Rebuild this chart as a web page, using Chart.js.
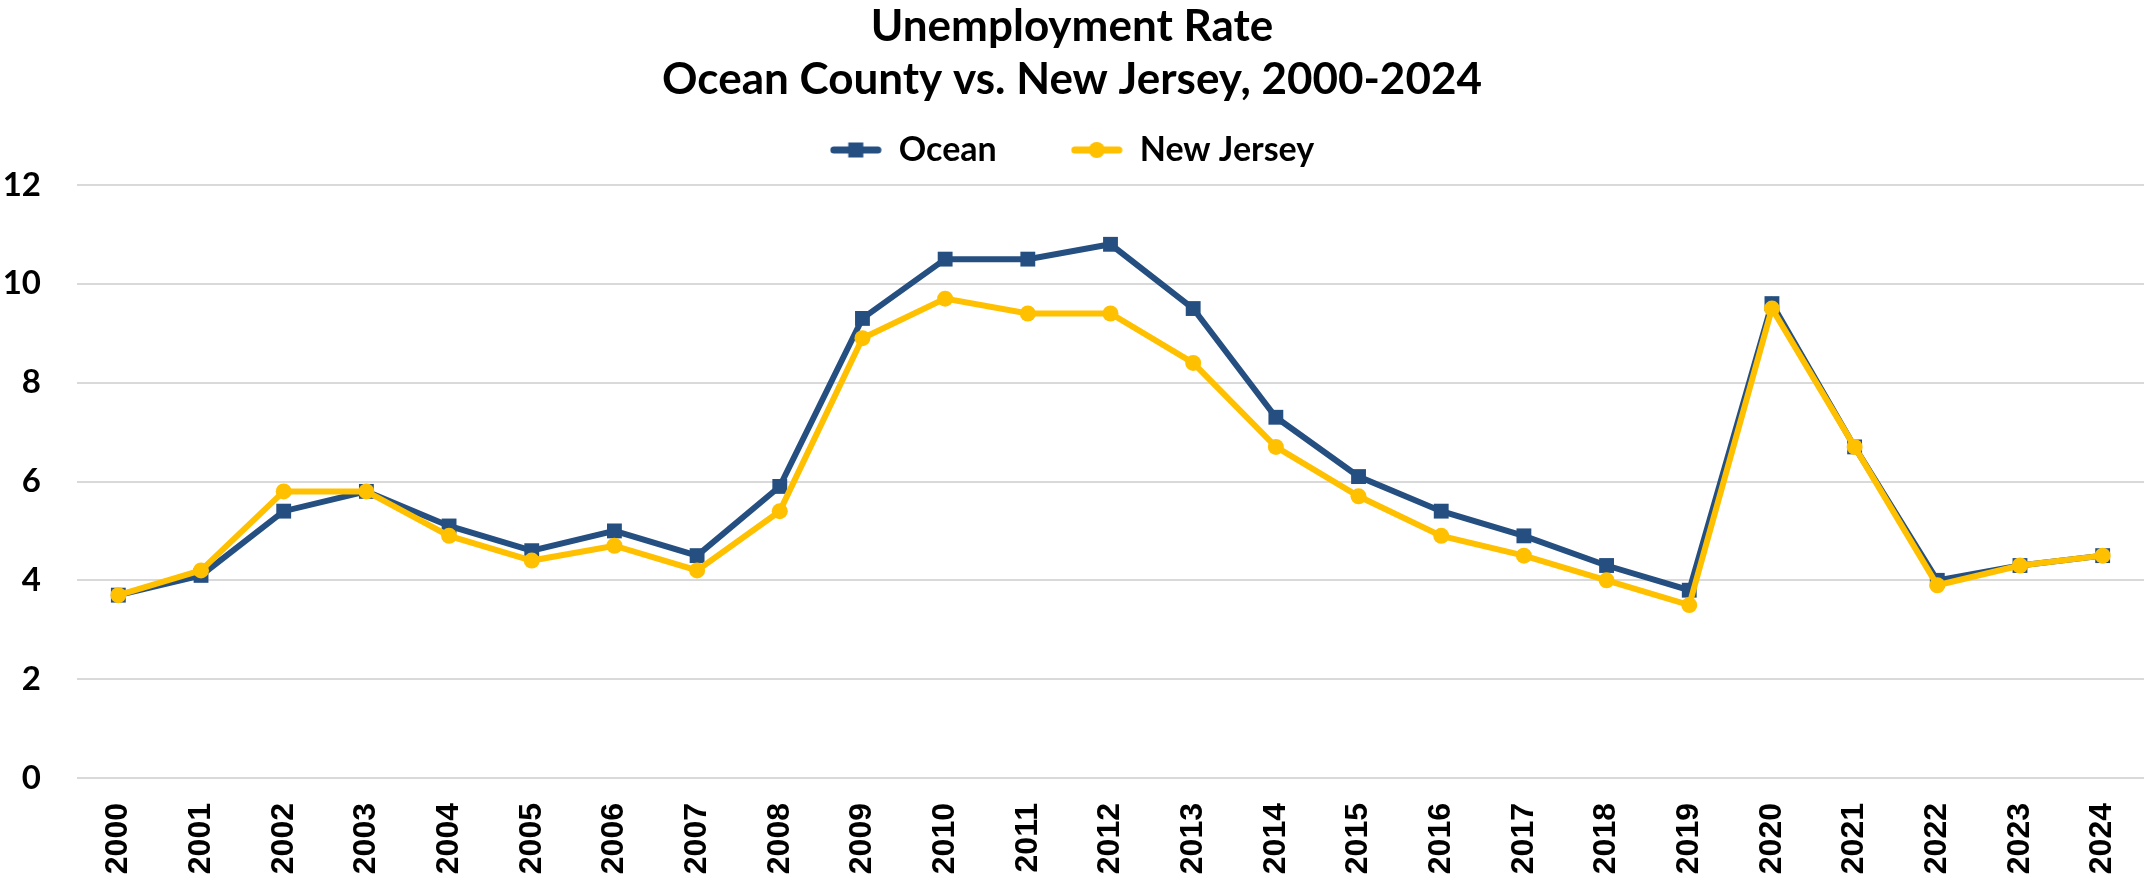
<!DOCTYPE html>
<html>
<head>
<meta charset="utf-8">
<script src="https://cdn.jsdelivr.net/npm/chart.js@4.4.1/dist/chart.umd.min.js"></script>
<style>
  html, body { margin: 0; padding: 0; background: #ffffff; }
  #wrap { width: 2144px; height: 883px; position: relative; }
</style>
</head>
<body>
<div id="wrap"><canvas id="c"></canvas></div>
<script>
const years = ['2000','2001','2002','2003','2004','2005','2006','2007','2008','2009','2010','2011','2012',
               '2013','2014','2015','2016','2017','2018','2019','2020','2021','2022','2023','2024'];
const ocean = [3.7, 4.1, 5.4, 5.8, 5.1, 4.6, 5.0, 4.5, 5.9, 9.3, 10.5, 10.5, 10.8,
               9.5, 7.3, 6.1, 5.4, 4.9, 4.3, 3.8, 9.6, 6.7, 4.0, 4.3, 4.5];
const newJersey = [3.7, 4.2, 5.8, 5.8, 4.9, 4.4, 4.7, 4.2, 5.4, 8.9, 9.7, 9.4, 9.4,
                   8.4, 6.7, 5.7, 4.9, 4.5, 4.0, 3.5, 9.5, 6.7, 3.9, 4.3, 4.5];
const seriesNames = ['Ocean', 'New Jersey'];
const titleLines = ['Unemployment Rate', 'Ocean County vs. New Jersey, 2000-2024'];
const yTicks = [0, 2, 4, 6, 8, 10, 12];

const OCEAN_COLOR = '#254F81';
const NJ_COLOR = '#FFC000';

function legendIcon(color, shape) {
  const cv = document.createElement('canvas');
  cv.width = 52; cv.height = 20;
  const g = cv.getContext('2d');
  g.strokeStyle = color; g.lineWidth = 7; g.lineCap = 'round';
  g.beginPath(); g.moveTo(4, 10); g.lineTo(48, 10); g.stroke();
  g.fillStyle = color;
  if (shape === 'rect') { g.fillRect(26 - 7.5, 10 - 7.5, 15, 15); }
  else { g.beginPath(); g.arc(26, 10, 8, 0, Math.PI * 2); g.fill(); }
  return cv;
}
const icons = [legendIcon(OCEAN_COLOR, 'rect'), legendIcon(NJ_COLOR, 'circle')];

new Chart(document.getElementById('c'), {
  type: 'line',
  data: {
    labels: years,
    datasets: [
      {
        label: seriesNames[0], data: ocean, order: 1,
        borderColor: OCEAN_COLOR, backgroundColor: OCEAN_COLOR, borderWidth: 6,
        pointStyle: 'rect', pointRadius: 10.5, pointBorderWidth: 0,
        pointBackgroundColor: OCEAN_COLOR, tension: 0, clip: false
      },
      {
        label: seriesNames[1], data: newJersey, order: 0,
        borderColor: NJ_COLOR, backgroundColor: NJ_COLOR, borderWidth: 6,
        pointStyle: 'circle', pointRadius: 8, pointBorderWidth: 0,
        pointBackgroundColor: NJ_COLOR, tension: 0, clip: false
      }
    ]
  },
  options: {
    responsive: true,
    maintainAspectRatio: false,
    animation: false,
    devicePixelRatio: 1,
    layout: { padding: 0, autoPadding: false },
    plugins: {
      title: {
        display: true,
        text: titleLines,
        color: '#000000',
        font: { family: 'Lato', weight: 'bold', size: 44, lineHeight: '53px' },
        padding: { top: 0, bottom: -47 }
      },
      subtitle: {
        display: true,
        text: '',
        weight: 500,
        font: { size: 1, lineHeight: 0 },
        padding: { top: 0, bottom: 8 }
      },
      legend: {
        display: true,
        position: 'top',
        labels: {
          color: '#000000',
          font: { family: 'Lato', weight: 'bold', size: 34 },
          usePointStyle: true,
          pointStyleWidth: 52,
          padding: 74,
          sort: (a, b) => a.datasetIndex - b.datasetIndex,
          generateLabels: (chart) => {
            const items = Chart.defaults.plugins.legend.labels.generateLabels(chart);
            items.forEach(it => { it.pointStyle = icons[it.datasetIndex]; });
            return items;
          }
        }
      },
      tooltip: { enabled: false }
    },
    scales: {
      x: {
        offset: true,
        grid: { display: false, drawTicks: false },
        border: { display: false },
        ticks: {
          color: '#000000',
          font: { family: 'Liberation Sans', weight: 'bold', size: 32 },
          minRotation: 90, maxRotation: 90, padding: 25, autoSkip: false
        },
        afterFit: (s) => { s.height = 105; s.paddingLeft = 0; s.paddingRight = 0; }
      },
      y: {
        min: 0, max: 12,
        afterBuildTicks: (s) => { s.ticks = yTicks.map(v => ({ value: v })); },
        grid: { color: '#D9D9D9', lineWidth: 2, drawTicks: false },
        border: { display: false },
        ticks: {
          color: '#000000',
          font: { family: 'Lato', weight: 'bold', size: 33 },
          padding: 36
        },
        afterFit: (s) => { s.width = 77; }
      }
    }
  }
});
</script>
</body>
</html>
